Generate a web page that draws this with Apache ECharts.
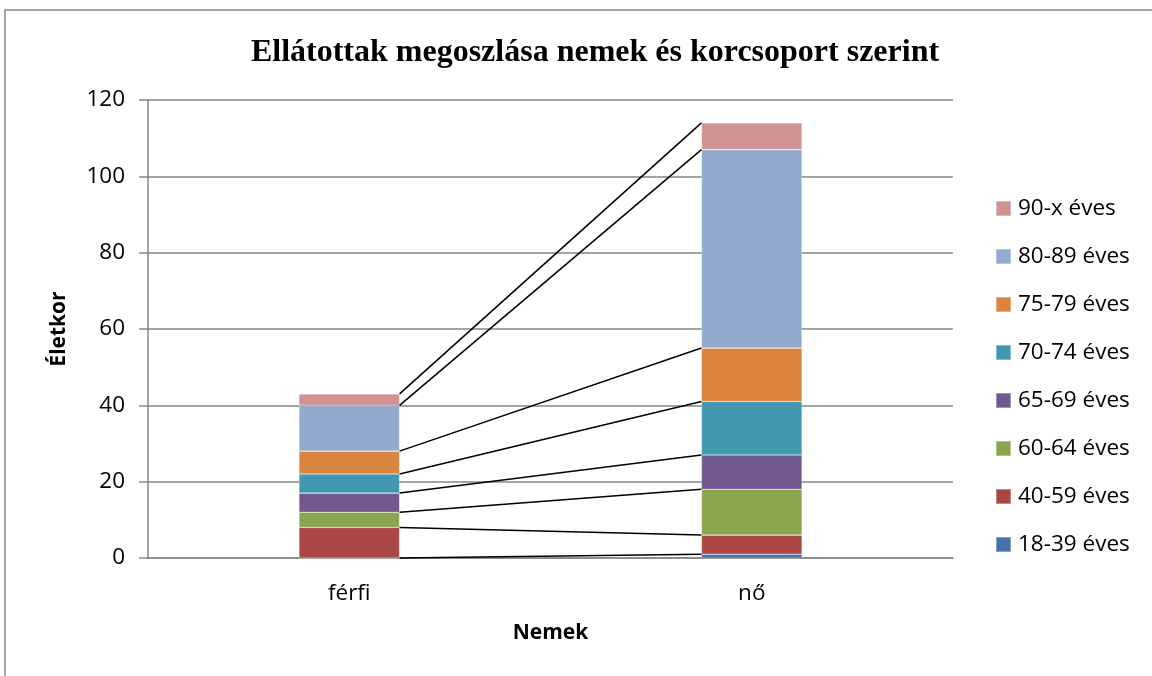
<!DOCTYPE html>
<html>
<head>
<meta charset="utf-8">
<script src="https://cdn.jsdelivr.net/npm/echarts@6/dist/echarts.min.js"></script>
<style>html,body{margin:0;padding:0;background:#fff}#c{width:1152px;height:676px}</style>
</head>
<body>
<div id="c"></div>
<script>
const categories = ['férfi', 'nő'];
const seriesNames = ['18-39 éves', '40-59 éves', '60-64 éves', '65-69 éves', '70-74 éves', '75-79 éves', '80-89 éves', '90-x éves'];
const ferfi = [0, 8, 4, 5, 5, 6, 12, 3];
const no = [1, 5, 12, 9, 14, 14, 52, 7];
const yTicks = [0, 20, 40, 60, 80, 100, 120];
const colors = ['#4572A7', '#AA4643', '#89A54E', '#71588F', '#4198AF', '#DB843D', '#93A9CF', '#D19392'];

const FONT = 'Open Sans';
const chart = echarts.init(document.getElementById('c'), null, {renderer: 'canvas'});

const barSeries = seriesNames.map((n, i) => ({
  name: n, type: 'bar', stack: 'all', barWidth: '25%',
  data: [ferfi[i], no[i]],
  itemStyle: {color: colors[i], borderColor: 'rgba(255,255,255,0.35)', borderWidth: 0.6},
  emphasis: {disabled: true}
}));

// cumulative tops for series lines
let cf = 0, cn = 0;
const lineData = seriesNames.map((n, i) => { cf += ferfi[i]; cn += no[i]; return [0, cf, cn]; });

const lineSeries = {
  type: 'custom', name: 'lines', silent: true, z: 5,
  data: lineData,
  renderItem: function (params, api) {
    const p1 = api.coord([0, api.value(1)]);
    const p2 = api.coord([1, api.value(2)]);
    const bw = api.size([1, 0])[0] * 0.25;
    return {
      type: 'line',
      shape: {x1: p1[0] + bw / 2, y1: p1[1], x2: p2[0] - bw / 2, y2: p2[1]},
      style: {stroke: '#000', lineWidth: 1.5}
    };
  }
};

chart.setOption({
  animation: false,
  color: colors,
  title: {
    text: 'Ellátottak megoszlása nemek és korcsoport szerint',
    left: 590, top: 32, textAlign: 'center',
    textStyle: {fontFamily: 'Liberation Serif', fontWeight: 'bold', fontSize: 32, color: '#000'}
  },
  graphic: [{
    type: 'rect', shape: {x: 5, y: 10, width: 1200, height: 700},
    style: {fill: 'none', stroke: '#868686', lineWidth: 1.5}, silent: true
  }],
  legend: {
    orient: 'vertical', left: 990, top: 192,
    data: seriesNames.slice().reverse(),
    icon: 'rect', itemWidth: 15, itemHeight: 15, itemGap: 25,
    textStyle: {fontFamily: FONT, fontSize: 22.5, color: '#000', lineHeight: 23, padding: [0, 0, 0, 2]}
  },
  grid: {left: 148, right: 199, top: 100, bottom: 118, containLabel: false},
  xAxis: {
    type: 'category', data: categories,
    name: 'Nemek', nameLocation: 'middle', nameGap: 65,
    nameTextStyle: {fontFamily: FONT, fontWeight: 'bold', fontSize: 21, color: '#000'},
    axisLine: {lineStyle: {color: '#868686', width: 1.5}},
    axisTick: {show: false},
    axisLabel: {fontFamily: FONT, fontSize: 22.5, color: '#000', margin: 24}
  },
  yAxis: {
    type: 'value', min: 0, max: 120, interval: 20,
    name: 'Életkor', nameLocation: 'middle', nameGap: 78, nameRotate: 90,
    nameTextStyle: {fontFamily: FONT, fontWeight: 'bold', fontSize: 21, color: '#000'},
    axisLine: {show: true, lineStyle: {color: '#868686', width: 1.5}},
    axisTick: {show: true, inside: false, length: 9, lineStyle: {color: '#868686', width: 1.5}},
    axisLabel: {fontFamily: FONT, fontSize: 22.5, color: '#000', margin: 23,
      formatter: v => yTicks.includes(v) ? String(v) : ''},
    splitLine: {lineStyle: {color: '#868686', width: 1.5}}
  },
  series: barSeries.concat([lineSeries])
});
</script>
</body>
</html>
